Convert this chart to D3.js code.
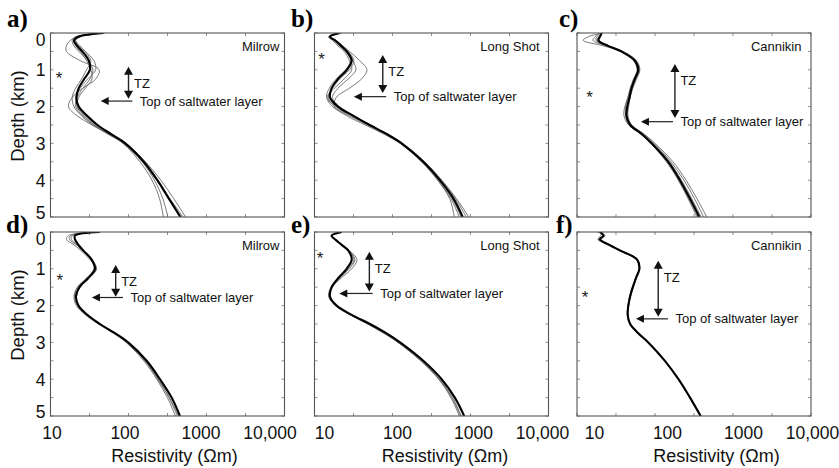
<!DOCTYPE html>
<html><head><meta charset="utf-8">
<script src="https://cdn.jsdelivr.net/npm/d3@7"></script>
<style>body{margin:0;background:#fff}</style>
</head><body><svg id="c" width="839" height="468"></svg>
<script>
// ---------- data ----------
const depths = [0, 0.1, 0.2, 0.35, 0.5, 0.75, 1.0, 1.25, 1.5, 1.75, 2.0, 2.25, 2.5, 2.75, 3.0, 3.5, 4.0, 4.5, 5.0];
const xTickValues = [10, 100, 1000, 10000];
const xTickLabels = ["10", "100", "1000", "10,000"];
const yTickValues = [0, 1, 2, 3, 4, 5];
const panelLetters = ["a)", "b)", "c)", "d)", "e)", "f)"];
const siteNames = ["Milrow", "Long Shot", "Cannikin", "Milrow", "Long Shot", "Cannikin"];

// a) Milrow (top)
const blackA = [48, 23, 20, 22, 25.5, 31, 32, 27, 23, 21.5, 23, 29.5, 40, 60, 91, 157, 234, 329, 464];
const grayA = [
  [45, 22, 18, 16, 16, 24, 42, 38, 26, 19, 17, 22, 34, 55, 85, 140, 200, 250, 280],
  [50, 24, 21, 24, 28, 36, 38, 30, 24, 21, 22, 28, 39, 60, 93, 165, 260, 380, 540],
  [46, 21, 19, 20, 23, 30, 35, 32, 26, 22, 21, 26, 36, 55, 86, 150, 230, 340, 500],
  [48, 23, 21, 23, 27, 33, 29, 25, 21, 19, 20, 25, 35, 57, 88, 155, 240, 335, 450],
  [47, 22, 20, 21, 24, 29, 33, 34, 28, 23, 22, 27, 37, 58, 90, 150, 215, 275, 320]
];
// b) Long Shot (top)
const blackB = [21, 15.8, 18.3, 22, 25.9, 30, 26, 20, 16.6, 15.8, 20, 31.5, 51, 85, 131, 248, 405, 605, 795];
const grayB = [
  [22, 16, 19, 23, 28, 38, 47, 40, 28, 19, 18, 26, 45, 78, 125, 235, 380, 560, 720],
  [20, 15, 17, 20, 24, 28, 30, 24, 18, 14.5, 17, 28, 48, 82, 128, 240, 390, 580, 760],
  [21, 16, 18, 22, 27, 32, 28, 21, 17, 15, 18, 30, 50, 86, 135, 260, 430, 660, 950],
  [22, 16, 18.5, 23, 27, 31, 34, 27, 20, 17, 21, 32, 52, 86, 130, 240, 380, 540, 620],
  [21, 15.5, 18, 21, 25, 29, 25, 19, 15.5, 14.3, 19, 31, 51, 84, 128, 250, 420, 640, 880]
];
// c) Cannikin (top)
const blackC = [20.7, 19.7, 18.8, 25, 37, 55, 61, 55, 50, 47, 44, 43, 48, 68, 91, 148, 209, 281, 370];
const grayC = [
  [21, 14, 12, 22, 36, 56, 63, 57, 51, 48, 45, 44, 50, 72, 97, 160, 235, 320, 420],
  [20, 17, 16, 24, 38, 57, 60, 53, 48, 45, 42, 42, 47, 66, 88, 140, 200, 270, 355],
  [21, 19, 18, 26, 39, 58, 64, 58, 52, 48, 46, 45, 50, 70, 94, 153, 218, 295, 390],
  [20, 18, 17.5, 24, 36, 53, 59, 54, 49, 45, 41, 40, 46, 67, 90, 145, 200, 265, 345],
  [21, 20, 19, 25, 37, 56, 62, 56, 51, 48, 45, 44, 50, 73, 100, 170, 250, 345, 460]
];
// d) Milrow (bottom)
const blackD = [43, 20.6, 20.6, 22.8, 26.3, 33.7, 37.2, 30.5, 23.5, 21.2, 22.8, 29.6, 43, 67, 99, 171, 253, 357, 457];
const grayD = [
  [40, 17, 16, 20, 24.5, 32, 38.5, 31, 22.5, 20, 21.5, 28, 41, 64, 93, 157, 230, 315, 400],
  [41, 18, 17.5, 21.5, 25.5, 33, 36, 29, 22, 20.3, 22, 28.5, 42, 65, 95, 162, 238, 330, 425],
  [42, 19, 18.5, 22, 26, 34, 39, 31.5, 24, 21.5, 23, 29, 42, 66, 96, 164, 240, 335, 440]
];
// e) Long Shot (bottom)
const blackE = [22.3, 16.6, 18.3, 22.3, 27, 30, 25.8, 20.2, 16.6, 15.8, 19.2, 30, 51.5, 83, 125, 248, 426, 630, 830];
const grayE = [
  [22, 16.3, 18, 22, 27.5, 33, 28, 21, 16.8, 15.5, 18.5, 28.5, 48, 77, 117, 230, 390, 560, 720],
  [22, 16.5, 18.5, 23, 28, 35, 30, 22, 17, 15.3, 18.8, 29, 49, 79, 120, 235, 400, 590, 760],
  [22, 16.4, 18.2, 22.5, 27.5, 32, 27, 20.5, 16.2, 15.2, 18.4, 28.8, 48.5, 78, 118, 232, 395, 575, 745]
];
// f) Cannikin (bottom)
const blackF = [19.7, 21.8, 19.7, 26, 35.5, 59, 63, 57, 52, 48, 45.5, 44.7, 48, 61, 82, 134, 200, 281, 385];
const grayF = [
  [18, 23, 18.5, 25.5, 35, 58, 62.5, 56, 51, 47, 45, 44, 47.5, 60, 81, 133, 198, 279, 382],
  [21, 20, 18.8, 25, 34.5, 58.5, 64, 58, 52.5, 48.5, 46, 45, 48.5, 61.5, 83, 135, 201, 283, 388],
  [20.5, 22.5, 20.5, 26.5, 36, 60, 63.5, 57.5, 51.5, 47.5, 45.2, 44.5, 47.8, 60.5, 81.5, 133.5, 199, 280, 383]
];

// annotations (resistivity in Ohm m, depth in km)
const tzRes = [100, 75, 180, 68.5, 50.5, 110];
const tzTop = [0.92, 0.6, 0.84, 0.9, 0.54, 0.78];
const tzBottom = [1.79, 1.63, 2.31, 1.76, 1.62, 2.30];
const saltDepth = [1.85, 1.73, 2.41, 1.78, 1.67, 2.36];
const saltFrom = [112, 83, 170, 85, 55.7, 147];
const saltTo = [44, 32, 66, 34, 20.8, 57];
const starRes = [12.9, 12.3, 14.5, 13.2, 11.8, 12.7];
const starDepth = [1.2, 0.69, 1.73, 1.29, 0.69, 1.74];

const blacks = [blackA, blackB, blackC, blackD, blackE, blackF];
const grays = [grayA, grayB, grayC, grayD, grayE, grayF];

// ---------- layout ----------
const colLeft = [50.5, 314.5, 577];
const rowTop = [33, 232];
const W = 234, H = 184;
const letterX = [[7, 291, 559], [6, 291, 556]];
const letterY = [27, 232.5];
const tickLabelShift = [1.5, -3.5, -5.5, -14.5];
const colLabelShift = [0, 8.5, 16];

const svg = d3.select("#c");
const sans = "Arial, 'Liberation Sans', Helvetica, sans-serif";

blacks.forEach((blk, i) => {
  const row = Math.floor(i / 3), col = i % 3;
  const left = colLeft[col], top = rowTop[row];
  const x = d3.scaleLog().domain([10, 10000]).range([left, left + W]);
  const y = d3.scaleLinear().domain([0, 5]).range([top, top + H]);
  const g = svg.append("g");

  const clipId = "clip" + i;
  svg.append("clipPath").attr("id", clipId).append("rect")
    .attr("x", left).attr("y", top).attr("width", W).attr("height", H);

  // inward ticks on all sides
  const xMinor = [10, 31.62, 100, 316.2, 1000, 3162, 10000];
  const yMinor = d3.range(0, 5.01, 0.5);
  const tk = g.append("g").attr("stroke", "#777").attr("stroke-width", 0.8);
  xMinor.forEach(v => {
    tk.append("line").attr("x1", x(v)).attr("x2", x(v)).attr("y1", top).attr("y2", top + 3);
    tk.append("line").attr("x1", x(v)).attr("x2", x(v)).attr("y1", top + H).attr("y2", top + H - 3);
  });
  yMinor.forEach(v => {
    tk.append("line").attr("x1", left).attr("x2", left + 3).attr("y1", y(v)).attr("y2", y(v));
    tk.append("line").attr("x1", left + W).attr("x2", left + W - 3).attr("y1", y(v)).attr("y2", y(v));
  });

  const line = d3.line()
    .x((r) => x(r))
    .y((r, k) => y(depths[k]))
    .curve(d3.curveCatmullRom.alpha(0.5));

  const curves = g.append("g").attr("clip-path", `url(#${clipId})`);
  grays[i].forEach(s => {
    curves.append("path").attr("d", line(s)).attr("fill", "none")
      .attr("stroke", "#6a6a6a").attr("stroke-width", 0.9);
  });
  curves.append("path").attr("d", line(blk)).attr("fill", "none")
    .attr("stroke", "#000").attr("stroke-width", 2.1);

  // frame
  g.append("rect").attr("x", left).attr("y", top).attr("width", W).attr("height", H)
    .attr("fill", "none").attr("stroke", "#555").attr("stroke-width", 1.1);

  // site name
  g.append("text").attr("x", left + W - [5, 9, 9.5][col]).attr("y", top + 17.5)
    .attr("text-anchor", "end").attr("font-family", sans).attr("font-size", 13)
    .attr("fill", "#111").text(siteNames[i]);

  // panel letter
  g.append("text").attr("x", letterX[row][col]).attr("y", letterY[row])
    .attr("font-family", "'Liberation Serif', 'Times New Roman', serif")
    .attr("font-weight", "bold").attr("font-size", 25).attr("fill", "#000")
    .text(panelLetters[i]);

  // asterisk
  g.append("text").attr("x", x(starRes[i])).attr("y", y(starDepth[i]) + 6.5)
    .attr("text-anchor", "middle").attr("font-family", sans).attr("font-size", 17)
    .attr("fill", "#222").text("*");

  // TZ double arrow
  const ax = x(tzRes[i]), ay1 = y(tzTop[i]), ay2 = y(tzBottom[i]);
  g.append("line").attr("x1", ax).attr("x2", ax).attr("y1", ay1 + 5).attr("y2", ay2 - 5)
    .attr("stroke", "#222").attr("stroke-width", 1.4);
  g.append("path").attr("d", `M${ax},${ay1} L${ax - 4.5},${ay1 + 8} L${ax + 4.5},${ay1 + 8}Z`).attr("fill", "#111");
  g.append("path").attr("d", `M${ax},${ay2} L${ax - 4.5},${ay2 - 8} L${ax + 4.5},${ay2 - 8}Z`).attr("fill", "#111");
  g.append("text").attr("x", ax + 5.5).attr("y", ay1 + 21)
    .attr("font-family", sans).attr("font-size", 13).attr("fill", "#111").text("TZ");

  // saltwater arrow
  const sy = y(saltDepth[i]), sx1 = x(saltFrom[i]), sx2 = x(saltTo[i]);
  g.append("line").attr("x1", sx1).attr("x2", sx2 + 5).attr("y1", sy).attr("y2", sy)
    .attr("stroke", "#222").attr("stroke-width", 1.2);
  g.append("path").attr("d", `M${sx2},${sy} L${sx2 + 8},${sy - 4} L${sx2 + 8},${sy + 4}Z`).attr("fill", "#111");
  g.append("text").attr("x", sx1 + 7.5).attr("y", sy + 4.5)
    .attr("font-family", sans).attr("font-size", 13).attr("fill", "#111")
    .text("Top of saltwater layer");

  // y axis labels (left column)
  if (col === 0) {
    yTickValues.forEach(v => {
      const yy = Math.min(Math.max(y(v), top + 7), top + H - 4);
      g.append("text").attr("x", left - 5).attr("y", yy).attr("dy", "0.36em")
        .attr("text-anchor", "end").attr("font-family", sans).attr("font-size", 17.5)
        .attr("fill", "#111").text(v);
    });
    g.append("text")
      .attr("transform", `translate(${left - 33},${top + H / 2 - 9}) rotate(-90)`)
      .attr("text-anchor", "middle").attr("dy", "0.36em")
      .attr("font-family", sans).attr("font-size", 18.5).attr("fill", "#111")
      .text("Depth (km)");
  }
  // x axis labels (bottom row)
  if (row === 1) {
    xTickValues.forEach((v, k) => {
      g.append("text").attr("x", x(v) + tickLabelShift[k] + colLabelShift[col])
        .attr("y", top + H + 22.5).attr("text-anchor", "middle")
        .attr("font-family", sans).attr("font-size", 17.5).attr("fill", "#111")
        .text(xTickLabels[k]);
    });
    g.append("text").attr("x", left + W / 2 + [7, 13.5, 22.5][col]).attr("y", top + H + 45.5)
      .attr("text-anchor", "middle").attr("font-family", sans).attr("font-size", 18)
      .attr("fill", "#111").text("Resistivity (\u03A9m)");
  }
});
</script></body></html>
